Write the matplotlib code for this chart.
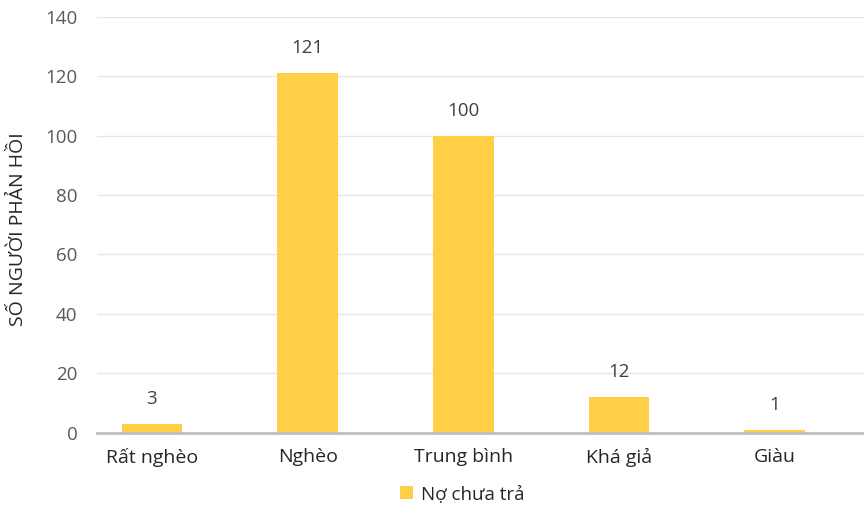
import matplotlib.pyplot as plt
import numpy as np

plt.rcParams['font.family'] = ['Open Sans', 'DejaVu Sans']

categories = ['Rất nghèo', 'Nghèo', 'Trung bình', 'Khá giả', 'Giàu']
no_chua_tra = [3, 121, 100, 12, 1]
series_name = 'Nợ chưa trả'

bar_color = '#FFCF48'
tick_color = '#595959'
label_color = '#404040'

fig = plt.figure(figsize=(8.64, 5.09), dpi=100)
ax = fig.add_axes([0.1123, 0.150, 0.8877, 0.817])

x = np.arange(len(categories))
bars = ax.bar(x, no_chua_tra, width=0.39, color=bar_color, label=series_name, zorder=3)

for xi, v in zip(x, no_chua_tra):
    ax.annotate(str(v), (xi, v), xytext=(0, 18), textcoords='offset points',
                ha='center', va='center', fontsize=13.5, color=label_color)

ax.set_xlim(-0.353, 4.573)
ax.set_ylim(0, 140)
ax.set_yticks(np.arange(0, 141, 20))
ax.set_xticks(x)
ax.set_xticklabels(categories, fontsize=14, color='#262626')
ax.tick_params(axis='y', labelsize=13.5, labelcolor=tick_color, length=0, pad=14)
ax.tick_params(axis='x', length=0, pad=11)

ax.grid(axis='y', color='#E6E6E6', linewidth=1, zorder=0)
for side in ['top', 'right', 'left']:
    ax.spines[side].set_visible(False)
ax.spines['bottom'].set_color('#BFBFBF')
ax.spines['bottom'].set_linewidth(2)
ax.spines['bottom'].set_zorder(4)

ax.set_ylabel('SỐ NGƯỜI PHẢN HỒI', fontsize=14, color='#262626')
ax.yaxis.set_label_coords(-0.091, 0.49)

fig.legend(handles=[bars], loc='center', bbox_to_anchor=(0.535, 0.029),
           frameon=False, fontsize=13.5, handlelength=0.7, handleheight=0.7,
           handletextpad=0.4, labelcolor='#262626')

fig.savefig('out.png', dpi=100)
